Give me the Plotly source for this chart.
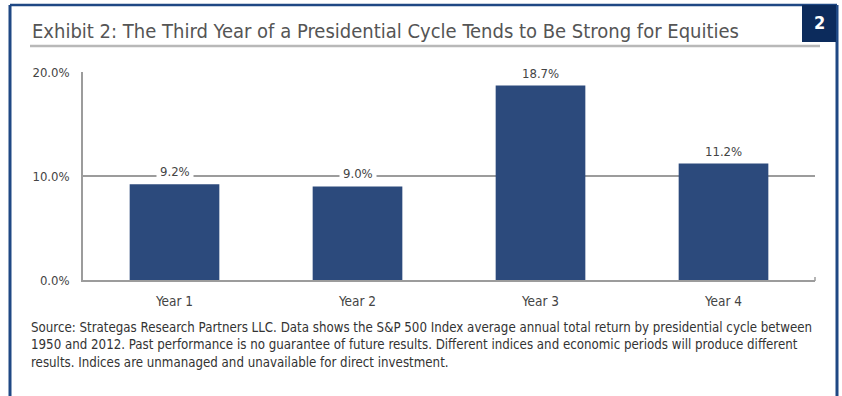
import plotly.graph_objects as go

# ---- data ----
categories = ["Year 1", "Year 2", "Year 3", "Year 4"]
returns = [9.2, 9.0, 18.7, 11.2]
value_labels = ["9.2%", "9.0%", "18.7%", "11.2%"]
y_tick_vals = [0, 10, 20]
y_tick_text = ["0.0%", "10.0%", "20.0%"]

title_text = "Exhibit 2: The Third Year of a Presidential Cycle Tends to Be Strong for Equities"
footnote_lines = [
    "Source: Strategas Research Partners LLC. Data shows the S&P 500 Index average annual total return by presidential cycle between",
    "1950 and 2012. Past performance is no guarantee of future results. Different indices and economic periods will produce different",
    "results. Indices are unmanaged and unavailable for direct investment.",
]
badge_text = "2"

# ---- layout helpers ----
W, H = 842, 396
def px(x):
    return x / W
def py(y):
    return 1 - y / H

FONT = "Liberation Sans Narrow, Arial Narrow, DejaVu Sans Condensed, sans-serif"
BAR = "#2c4a7c"
GRID = "#9c9c9c"
FRAME = "#1f4884"
NAVY = "#0c2b5c"

fig = go.Figure(
    go.Bar(
        x=categories,
        y=returns,
        width=0.49,
        marker=dict(color=BAR, line=dict(width=0)),
        hoverinfo="skip",
    )
)

annotations = []
for c, v, t in zip(categories, returns, value_labels):
    annotations.append(dict(
        x=c, y=v, xref="x", yref="y", text=t, showarrow=False,
        yanchor="bottom", yshift=1, bgcolor="white", borderpad=3,
        font=dict(family=FONT, size=13, color="#444444"),
    ))

annotations.append(dict(
    x=px(30), y=py(31), xref="paper", yref="paper", text=title_text,
    showarrow=False, xanchor="left", yanchor="middle",
    font=dict(family=FONT, size=20, color="#555555"),
))
annotations.append(dict(
    x=px(819), y=py(22), xref="paper", yref="paper", text="<b>%s</b>" % badge_text,
    showarrow=False, xanchor="center", yanchor="middle",
    font=dict(family=FONT, size=18, color="white"),
))
for i, line in enumerate(footnote_lines):
    annotations.append(dict(
        x=px(29), y=py(327 + 17.5 * i), xref="paper", yref="paper", text=line,
        showarrow=False, xanchor="left", yanchor="middle",
        font=dict(family=FONT, size=13.2, color="#333333"),
    ))

shapes = [
    # blue outer frame
    dict(type="line", xref="paper", yref="paper", x0=px(10), x1=px(10), y0=py(5), y1=0,
         line=dict(color=FRAME, width=3)),
    dict(type="line", xref="paper", yref="paper", x0=px(10), x1=px(837), y0=py(5), y1=py(5),
         line=dict(color=FRAME, width=2.5)),
    dict(type="line", xref="paper", yref="paper", x0=px(837), x1=px(837), y0=py(5), y1=0,
         line=dict(color=FRAME, width=3)),
    # navy badge
    dict(type="rect", xref="paper", yref="paper", x0=px(802), x1=px(836), y0=py(5), y1=py(42),
         fillcolor=NAVY, line=dict(width=0)),
    # title underline
    dict(type="line", xref="paper", yref="paper", x0=px(30), x1=px(820), y0=py(46), y1=py(46),
         line=dict(color="#b8b8b8", width=2.5)),
    # small end tick on x axis
    dict(type="line", xref="paper", yref="paper", x0=px(815), x1=px(815), y0=py(281), y1=py(277),
         line=dict(color=GRID, width=1.5)),
]

fig.update_layout(
    width=W, height=H,
    margin=dict(l=0, r=0, t=0, b=0),
    paper_bgcolor="white", plot_bgcolor="white",
    showlegend=False,
    font=dict(family=FONT, color="#444444"),
    annotations=annotations,
    shapes=shapes,
    bargap=0.5,
)
fig.update_xaxes(
    domain=[px(83), px(815)], automargin=False,
    showline=True, linecolor=GRID, linewidth=1.5,
    showgrid=False, ticks="", ticklabelstandoff=8,
    tickfont=dict(family=FONT, size=13.5, color="#444444"),
)
fig.update_yaxes(
    domain=[py(280), py(72)], automargin=False,
    range=[0, 20], tickvals=y_tick_vals, ticktext=y_tick_text,
    showgrid=True, gridcolor=GRID, gridwidth=1.5,
    showline=True, linecolor=GRID, linewidth=1.5, zeroline=False,
    ticks="", ticklabelstandoff=9,
    tickfont=dict(family=FONT, size=13, color="#444444"),
)

fig.write_html("out.html")
